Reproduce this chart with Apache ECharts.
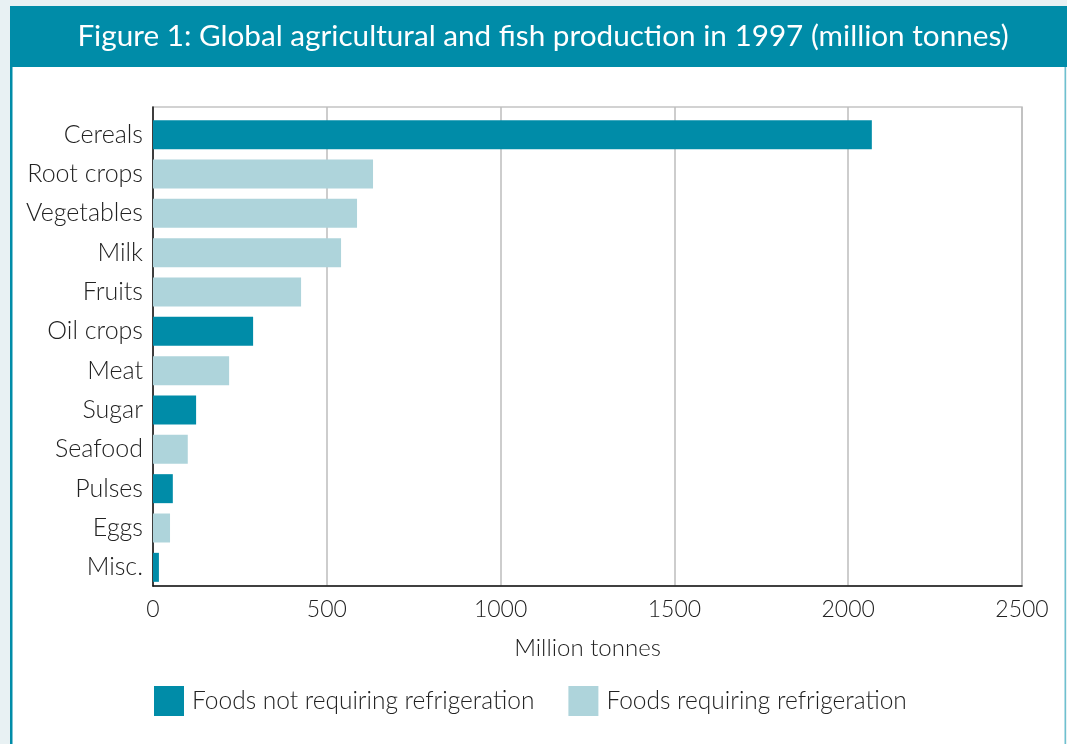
<!DOCTYPE html>
<html>
<head>
<meta charset="utf-8">
<script src="https://cdn.jsdelivr.net/npm/echarts@6/dist/echarts.min.js"></script>
<style>
html,body{margin:0;padding:0;background:#e8f1f3;}
#chart{width:1067px;height:744px;}
</style>
</head>
<body>
<div id="chart"></div>
<script>
const categories = ['Cereals','Root crops','Vegetables','Milk','Fruits','Oil crops','Meat','Sugar','Seafood','Pulses','Eggs','Misc.'];
const values = [2068, 633, 587, 541, 426, 288, 219, 124, 100, 57, 49, 17];
const needsRefrigeration = [false, true, true, true, true, false, true, false, true, false, true, false];
const seriesNames = ['Foods not requiring refrigeration', 'Foods requiring refrigeration'];
const xTicks = [0, 500, 1000, 1500, 2000, 2500];

const TEAL = '#008ca8';
const LIGHT = '#aed4db';
const FONT = 'Lato';
const TXT = '#222';

const notRefData = values.map((v, i) => needsRefrigeration[i] ? '-' : v);
const refData = values.map((v, i) => needsRefrigeration[i] ? v : '-');

const chart = echarts.init(document.getElementById('chart'));
chart.setOption({
  animation: false,
  backgroundColor: 'transparent',
  graphic: [
    { type: 'rect', silent: true, z: -10, shape: { x: 10, y: 67, width: 1056, height: 677 }, style: { fill: '#ffffff' } },
    { type: 'rect', silent: true, z: -9, shape: { x: 10, y: 67, width: 2.5, height: 677 }, style: { fill: TEAL } },
    { type: 'rect', silent: true, z: -9, shape: { x: 1064.5, y: 67, width: 1.5, height: 677 }, style: { fill: '#6fc0cf' } },
    { type: 'rect', silent: true, z: -9, shape: { x: 10, y: 6, width: 1057, height: 61 }, style: { fill: TEAL } }
  ],
  title: {
    text: 'Figure 1: Global agricultural and fish production in 1997 (million tonnes)',
    left: 538, top: 16, textAlign: 'center',
    textStyle: { color: '#ffffff', fontFamily: FONT, fontSize: 29.7, fontWeight: 'normal' }
  },
  legend: {
    left: 154, top: 686, padding: 0,
    itemWidth: 30, itemHeight: 30, itemGap: 34,
    icon: 'rect',
    textStyle: { fontFamily: FONT, fontSize: 24.5, color: TXT, fontWeight: 300, padding: [3, 0, 0, 3] },
    data: seriesNames
  },
  grid: [
    { left: 153, right: 45, top: 107, bottom: 158,
      show: true, borderColor: '#c4c4c4', borderWidth: 1.5, backgroundColor: '#fff' },
    { left: 153, right: 45, top: 115, bottom: 157 }
  ],
  xAxis: [
    { gridIndex: 0, type: 'value', min: 0, max: 2500, interval: 500,
      name: 'Million tonnes', nameLocation: 'middle', nameGap: 50,
      nameTextStyle: { fontFamily: FONT, fontSize: 24, color: TXT, fontWeight: 300 },
      axisLine: { show: true, lineStyle: { color: '#111', width: 1.5 } },
      axisTick: { show: false },
      axisLabel: { fontFamily: FONT, fontSize: 23, color: TXT, fontWeight: 300, margin: 12,
        formatter: v => xTicks.includes(v) ? String(v) : '' },
      splitLine: { show: true, lineStyle: { color: '#bdbdbd', width: 1.5 } } },
    { gridIndex: 1, type: 'value', min: 0, max: 2500, interval: 500, show: false }
  ],
  yAxis: [
    { gridIndex: 0, type: 'value', min: 0, max: 1,
      axisLine: { show: true, lineStyle: { color: '#111', width: 1.5 } },
      axisTick: { show: false }, axisLabel: { show: false }, splitLine: { show: false } },
    { gridIndex: 1, type: 'category', data: categories, inverse: true,
      axisLine: { show: false },
      axisTick: { show: false },
      axisLabel: { fontFamily: FONT, fontSize: 25, color: TXT, fontWeight: 300, margin: 10 } }
  ],
  series: [
    { name: seriesNames[0], type: 'bar', xAxisIndex: 1, yAxisIndex: 1, stack: 'all', data: notRefData, barWidth: 29, itemStyle: { color: TEAL } },
    { name: seriesNames[1], type: 'bar', xAxisIndex: 1, yAxisIndex: 1, stack: 'all', data: refData, barWidth: 29, itemStyle: { color: LIGHT } }
  ]
});
</script>
</body>
</html>
